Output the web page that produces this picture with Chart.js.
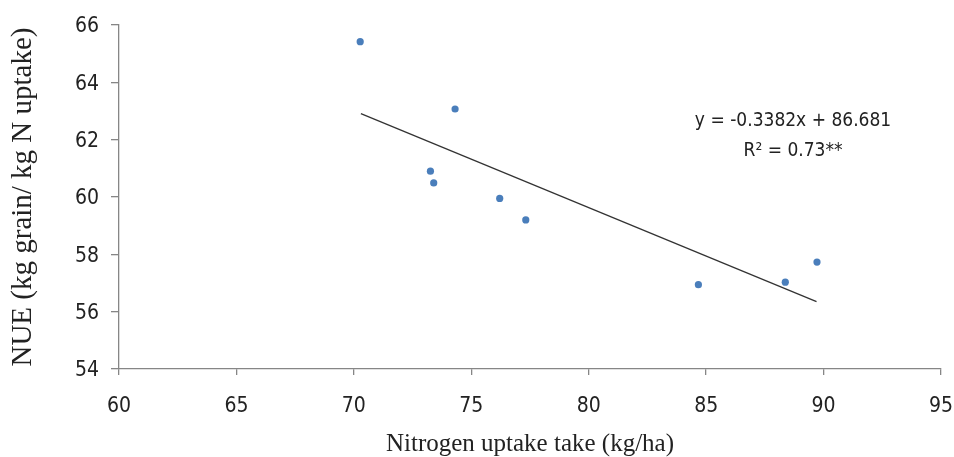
<!DOCTYPE html>
<html lang="en">
<head>
  <meta charset="UTF-8">
  <script src="https://cdn.jsdelivr.net/npm/chart.js@4.4.0/dist/chart.umd.min.js"></script>
  <title>NUE vs Nitrogen uptake</title>
  <style>
    html, body { margin: 0; padding: 0; background: #fff; overflow: hidden; }
    .chart-container { width: 954px; height: 457px; }
  </style>
</head>
<body>
  <div class="chart-container">
    <canvas id="nueChart" width="954" height="457"></canvas>
  </div>

  <script>
    // values
    const uptake = [70.27, 74.31, 73.26, 73.40, 76.21, 77.32, 84.67, 88.37, 89.72];
    const nue = [65.42, 63.07, 60.90, 60.49, 59.95, 59.20, 56.94, 57.03, 57.73];
    const trendX = [70.3, 89.7];
    const trendY = [62.91, 56.35];
    const xTicks = [60, 65, 70, 75, 80, 85, 90, 95];
    const yTicks = [54, 56, 58, 60, 62, 64, 66];
    const equationLines = ['y = -0.3382x + 86.681', 'R\u00B2 = 0.73**'];
    const equationAt = { x: 88.7, y: [62.66, 61.6] };

    const axisColor = '#868686';
    const tickFont = { family: 'DejaVu Sans Condensed', size: 21 };

    const equationLabel = {
      id: 'equationLabel',
      afterDatasetsDraw(chart) {
        const ctx = chart.ctx;
        const xs = chart.scales.x, ys = chart.scales.y;
        ctx.save();
        ctx.fillStyle = '#222';
        ctx.font = '19px "DejaVu Sans Condensed"';
        ctx.textAlign = 'center';
        ctx.textBaseline = 'middle';
        equationLines.forEach((line, i) => {
          ctx.fillText(line, xs.getPixelForValue(equationAt.x), ys.getPixelForValue(equationAt.y[i]));
        });
        ctx.restore();
      }
    };

    new Chart(document.getElementById('nueChart'), {
      type: 'scatter',
      data: {
        datasets: [
          {
            label: 'NUE',
            data: uptake.map((x, i) => ({ x: x, y: nue[i] })),
            backgroundColor: '#4a7ebb',
            borderColor: '#4a7ebb',
            pointRadius: 3.6,
            pointBorderWidth: 0
          },
          {
            label: 'Trend',
            type: 'line',
            data: trendX.map((x, i) => ({ x: x, y: trendY[i] })),
            borderColor: '#333',
            borderWidth: 1.3,
            pointRadius: 0,
            fill: false
          }
        ]
      },
      options: {
        responsive: false,
        animation: false,
        devicePixelRatio: 1,
        layout: { padding: { top: 25, right: 13, left: 0, bottom: 0 } },
        plugins: {
          legend: { display: false },
          tooltip: { enabled: false }
        },
        scales: {
          x: {
            type: 'linear',
            min: 60,
            max: 95,
            afterBuildTicks: s => { s.ticks = xTicks.map(v => ({ value: v })); },
            afterFit: s => { s.height = 88; s.paddingLeft = 0; s.paddingRight = 0; },
            border: { color: axisColor, width: 1.3 },
            grid: { drawOnChartArea: false, drawTicks: true, tickLength: 6, color: axisColor, lineWidth: 1.3 },
            ticks: { color: '#222', font: tickFont, padding: 19, maxRotation: 0 },
            title: {
              display: true,
              text: 'Nitrogen uptake take (kg/ha)',
              color: '#222',
              font: { family: 'Liberation Serif', size: 25 },
              padding: { top: 0, bottom: -2 }
            }
          },
          y: {
            type: 'linear',
            min: 54,
            max: 66,
            afterBuildTicks: s => { s.ticks = yTicks.map(v => ({ value: v })); },
            afterFit: s => { s.width = 119; s.paddingTop = 0; s.paddingBottom = 0; },
            border: { color: axisColor, width: 1.3 },
            grid: { drawOnChartArea: false, drawTicks: true, tickLength: 8, color: axisColor, lineWidth: 1.3 },
            ticks: { color: '#222', font: tickFont, padding: 12, labelOffset: 2 },
            title: {
              display: true,
              text: 'NUE (kg grain/ kg N uptake)',
              color: '#222',
              font: { family: 'Liberation Serif', size: 29 },
              padding: { top: 6, bottom: 0 }
            }
          }
        }
      },
      plugins: [equationLabel]
    });
  </script>
</body>
</html>
